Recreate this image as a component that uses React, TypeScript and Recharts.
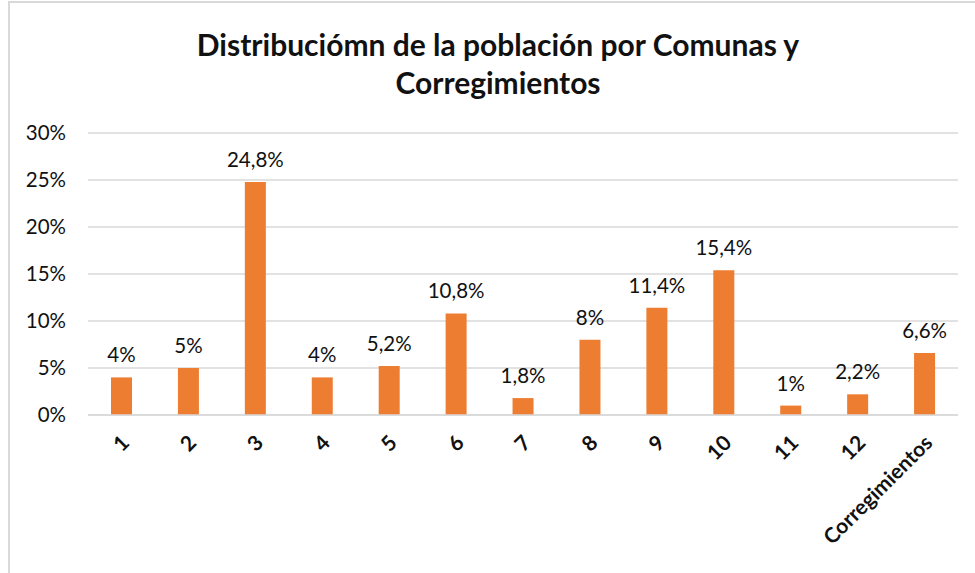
import { Bar, BarChart, CartesianGrid, LabelList, XAxis, YAxis } from "recharts";

const categories = ["1", "2", "3", "4", "5", "6", "7", "8", "9", "10", "11", "12", "Corregimientos"];
const shares = [4, 5, 24.8, 4, 5.2, 10.8, 1.8, 8, 11.4, 15.4, 1, 2.2, 6.6];
const yTicks = [0, 5, 10, 15, 20, 25, 30];

const data = categories.map((name, i) => ({ name, value: shares[i] }));

const FONT = "Lato, 'Noto Sans', sans-serif";

const fmt = (v: number) => String(v).replace(".", ",") + "%";

function RotatedTick(props: any) {
  const { x, y, payload } = props;
  return (
    <g transform={`translate(${x + 4},${y + 24})`}>
      <text
        x={0}
        y={0}
        dy="0.35em"
        textAnchor="end"
        transform="rotate(-45)"
        fontFamily={FONT}
        fontWeight={700}
        fontSize={21}
        fill="#111"
      >
        {payload.value}
      </text>
    </g>
  );
}

export default function App() {
  return (
    <div
      style={{
        position: "absolute",
        left: 0,
        top: 0,
        width: 975,
        height: 573,
        background: "#fff",
        fontFamily: FONT,
        overflow: "hidden",
      }}
    >
      <div
        style={{
          position: "absolute",
          left: 8,
          top: 1,
          width: 1000,
          height: 600,
          borderLeft: "2px solid #d9d9d9",
          borderTop: "2px solid #d9d9d9",
        }}
      />
      <div
        style={{
          position: "absolute",
          left: 0,
          top: 25,
          width: 996,
          textAlign: "center",
          fontWeight: 700,
          fontSize: 30,
          lineHeight: "38px",
          color: "#111",
        }}
      >
        Distribuciómn de la población por Comunas y
        <br />
        Corregimientos
      </div>
      <div style={{ position: "absolute", left: 0, top: 0 }}>
        <BarChart
          width={975}
          height={573}
          data={data}
          margin={{ top: 133, right: 17, bottom: 8, left: 28 }}
          barCategoryGap={0}
        >
          <CartesianGrid vertical={false} stroke="#d9d9d9" strokeWidth={1.5} />
          <YAxis
            width={60}
            domain={[0, 30]}
            ticks={yTicks}
            tickFormatter={(v) => v + "%"}
            axisLine={false}
            tickLine={false}
            tickSize={0}
            tickMargin={22}
            tick={{ fontFamily: FONT, fontSize: 20.5, fill: "#111" }}
          />
          <XAxis
            dataKey="name"
            height={150}
            interval={0}
            axisLine={{ stroke: "#d9d9d9", strokeWidth: 1.5 }}
            tickLine={false}
            tickSize={0}
            tickMargin={0}
            tick={<RotatedTick />}
          />
          <Bar dataKey="value" fill="#ED7D31" barSize={21} isAnimationActive={false}>
            <LabelList
              dataKey="value"
              position="top"
              offset={15}
              formatter={(v: any) => fmt(v)}
              style={{ fontFamily: FONT, fontSize: 20.5, fill: "#111" }}
            />
          </Bar>
        </BarChart>
      </div>
    </div>
  );
}
